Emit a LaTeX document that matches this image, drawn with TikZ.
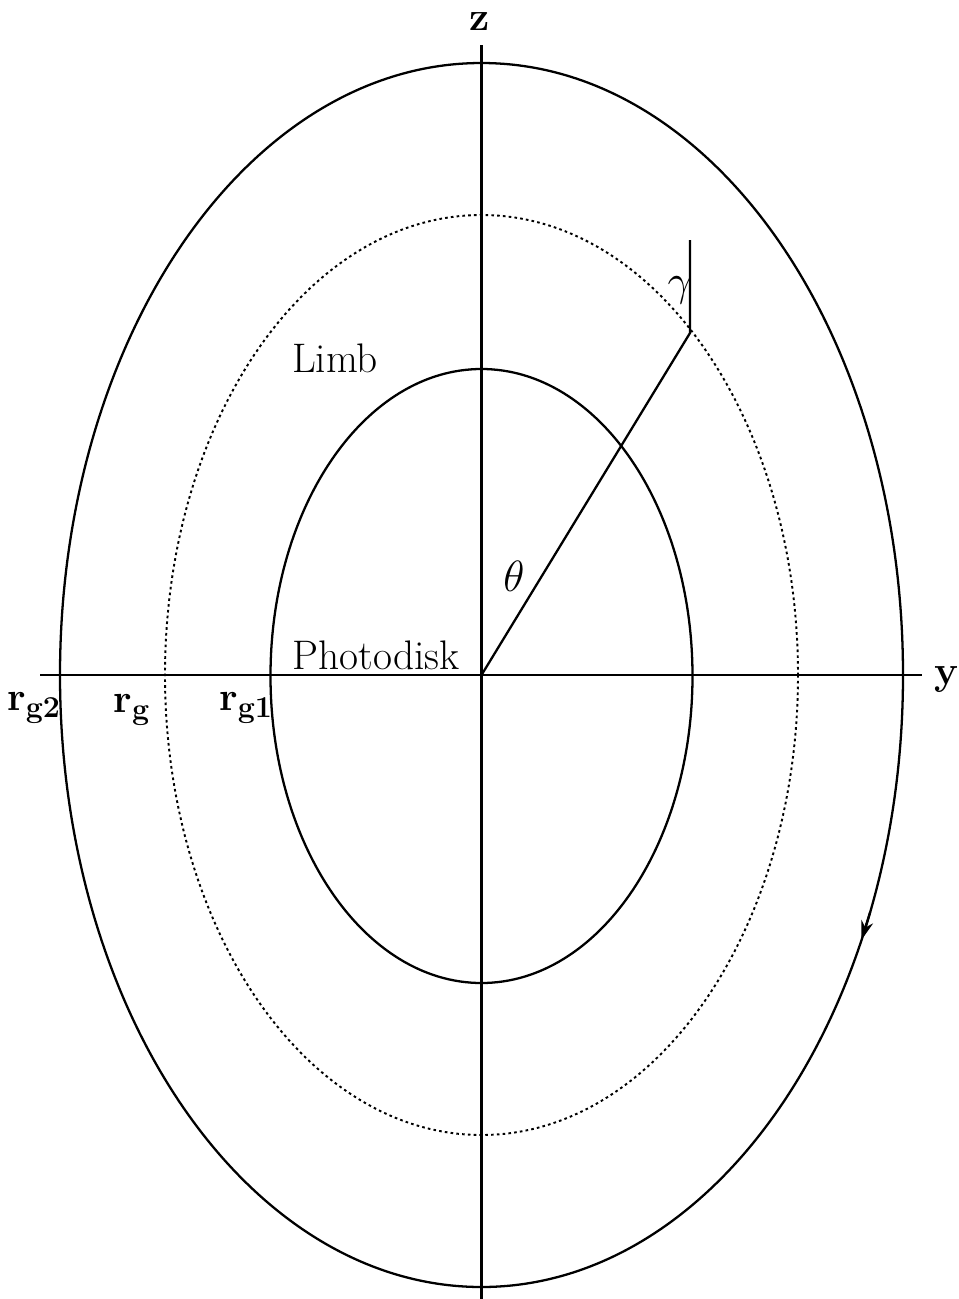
\documentclass[tikz,border=0pt]{standalone}
\usetikzlibrary{arrows.meta}
\begin{document}
\begin{tikzpicture}[x=0.02cm,y=-0.02cm,
  curve/.style={line width=1.3pt},
  axis/.style={line width=1.4pt},
  lbl/.style={font=\fontsize{23.5}{27}\selectfont, inner sep=0pt},
  blbl/.style={font=\fontsize{23}{27}\selectfont\bfseries, inner sep=0pt}]
\useasboundingbox (0,0) rectangle (958,1299);
\coordinate (O) at (481.5,675);
% axes
\coordinate (yl) at (40,675);
\coordinate (yr) at (922,675);
\coordinate (zt) at (481.5,45);
\coordinate (zb) at (481.5,1299);
\draw[axis] (yl) -- (yr);
\draw[axis] (zt) -- (zb);
% ellipses
\draw[curve] (O) ellipse[x radius=421.5, y radius=612];
\coordinate (a1) at (870.2,912);
\coordinate (a2) at (861.4,940);
\draw[curve, -{Stealth[length=11pt,width=7pt]}] (a1) -- (a2);
\draw[line width=1.1pt, dash pattern=on 1.5pt off 1.8pt] (O) ellipse[x radius=316.5, y radius=460];
\draw[curve] (481.5,676) ellipse[x radius=211, y radius=307];
% ray
\coordinate (P) at (690,333);
\coordinate (Q) at (690,240);
\draw[line width=1.3pt] (O) -- (P) -- (Q);
% labels
\node[blbl] (z) at (480,22) {z};
\node[blbl] (y) at (946,680) {y};
\node[lbl] (limb) at (335,358) {Limb};
\node[lbl] (photo) at (376,655) {Photodisk};
\node[lbl] (theta) at (514,576) {$\theta$};
\node[lbl] (gamma) at (680,290) {$\gamma$};
\node[blbl] (rg2) at (34,708) {r$_{\mathbf{g2}}$};
\node[blbl] (rg) at (132,710) {r$_{\mathbf{g}}$};
\node[blbl] (rg1) at (246,708) {r$_{\mathbf{g1}}$};
\end{tikzpicture}
\end{document}
